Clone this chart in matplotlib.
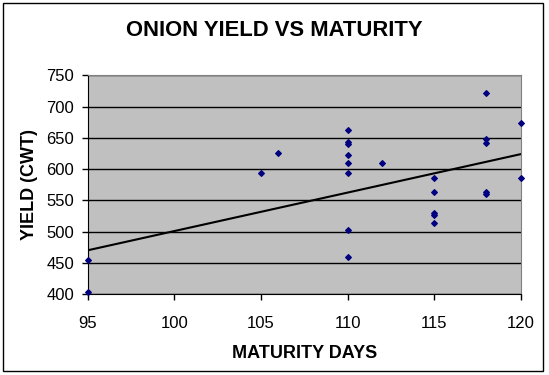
import matplotlib.pyplot as plt
from matplotlib.patches import Rectangle

# maturity days and yield readings
days = [95, 95, 105, 106,
        110, 110, 110, 110, 110, 110, 110, 110,
        112,
        115, 115, 115, 115, 115,
        118, 118, 118, 118, 118,
        120, 120]
yields = [454, 403, 594, 626,
          662, 643, 640, 622, 610, 593, 502, 459,
          610,
          585, 564, 529, 526, 513,
          722, 648, 642, 563, 560,
          673, 585]

# linear trend line ends as shown on the chart
trend_days = [95, 120]
trend_yields = [470, 624]

x_ticks = [95, 100, 105, 110, 115, 120]
y_ticks = [400, 450, 500, 550, 600, 650, 700, 750]

plt.rcParams['font.family'] = ['Liberation Sans', 'DejaVu Sans']

fig = plt.figure(figsize=(5.49, 3.75), dpi=100)
ax = fig.add_axes([0.16, 0.216, 0.789, 0.583])
ax.set_facecolor('#C0C0C0')

# outer chart border
fig.patches.append(Rectangle((3 / 549, 4 / 375), 540 / 549, 368 / 375,
                             transform=fig.transFigure, fill=False,
                             edgecolor='black', linewidth=1))

ax.scatter(days, yields, marker='D', s=8, color='#000080', zorder=3, clip_on=False)
ax.plot(trend_days, trend_yields, color='black', linewidth=1.5, zorder=2)

ax.set_xlim(95, 120)
ax.set_ylim(400, 750)
ax.set_xticks(x_ticks)
ax.set_yticks(y_ticks)
ax.yaxis.grid(True, color='black', linewidth=1)
ax.set_axisbelow(True)
ax.tick_params(direction='out', length=4, width=1, color='black', labelsize=12)
ax.tick_params(axis='x', pad=12)
ax.tick_params(axis='y', pad=6)

for s in ['top', 'right']:
    ax.spines[s].set_color('#808080')
for s in ['left', 'bottom']:
    ax.spines[s].set_color('black')

fig.text(0.499, 0.92, 'ONION YIELD VS MATURITY', ha='center', va='center',
         fontsize=15.8, fontweight='bold')
ax.set_xlabel('MATURITY DAYS', fontsize=13, fontweight='bold', labelpad=10)
ax.set_ylabel('YIELD (CWT)', fontsize=13, fontweight='bold', labelpad=6)

fig.savefig('out.png', dpi=100)
